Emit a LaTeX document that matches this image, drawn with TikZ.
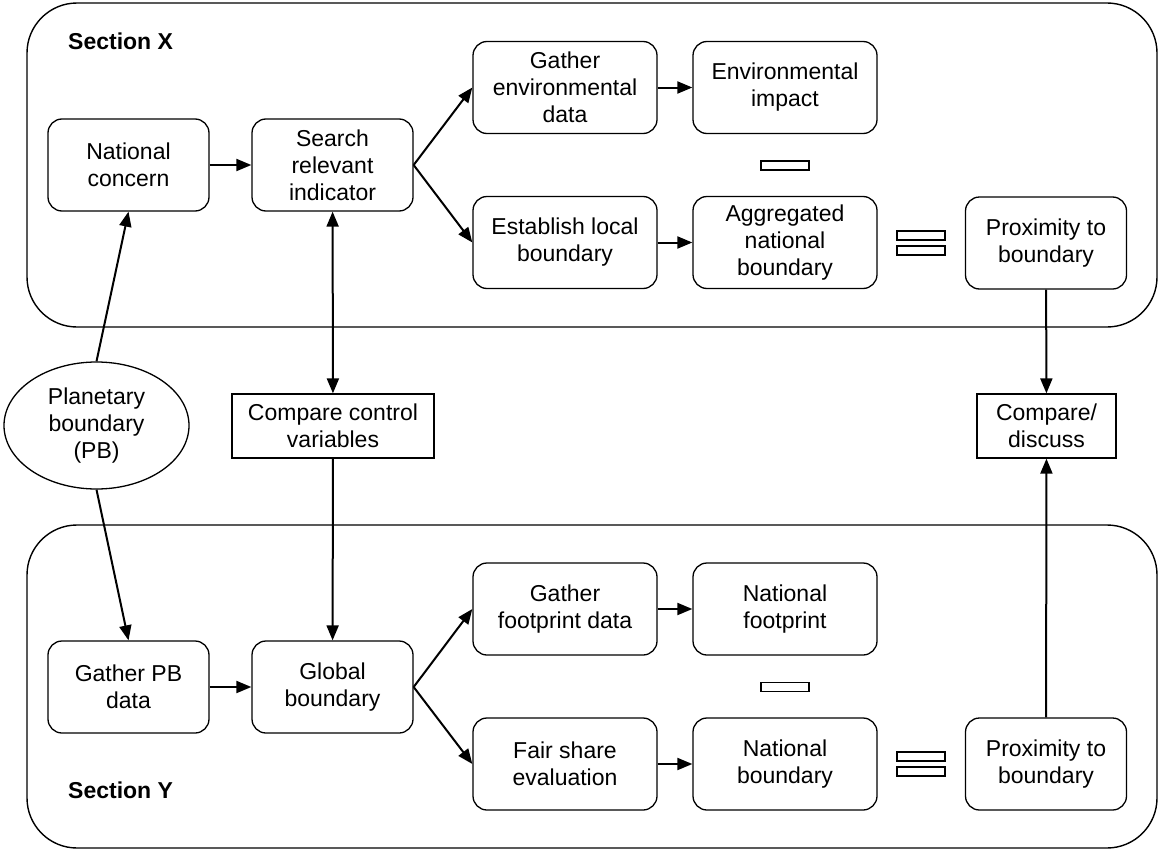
\documentclass[tikz,border=0pt]{standalone}
\usepackage{fontspec}
\setmainfont{Liberation Sans}
\usetikzlibrary{arrows.meta,shapes.geometric}

\begin{document}
\begin{tikzpicture}[x=1pt,y=-1pt,
  box/.style={draw,line width=1.3pt,rounded corners=14pt,minimum width=161pt,
    minimum height=92pt,align=center,inner sep=0pt,font=\fontsize{23}{27}\selectfont},
  widebox/.style={box,minimum width=184pt},
  plainbox/.style={draw,line width=1.3pt,minimum height=64pt,align=center,
    inner sep=0pt,font=\fontsize{23}{27}\selectfont},
  sign/.style={draw,line width=1.3pt,minimum width=48pt,minimum height=9pt,inner sep=0pt},
  arr/.style={line width=2pt,-{Triangle[length=15pt,width=12pt]}},
  dblarr/.style={line width=2pt,{Triangle[length=15pt,width=12pt]}-{Triangle[length=15pt,width=12pt]}}]
	\useasboundingbox (0,0) rectangle (1159,851);

	% sections
	\draw[line width=1.4pt,rounded corners=50pt] (27,3) rectangle (1157,327);
	\draw[line width=1.4pt,rounded corners=50pt] (27,525) rectangle (1157,848);
	\node[anchor=west,inner sep=0pt,font=\fontsize{23}{27}\selectfont\bfseries] (secX) at (68,41) {Section X};
	\node[anchor=west,inner sep=0pt,font=\fontsize{23}{27}\selectfont\bfseries] (secY) at (68,790) {Section Y};

	% section X
	\node[box] (national) at (128.5,165) {National\\concern};
	\node[box] (search) at (332.5,165) {Search\\relevant\\indicator};
	\node[widebox] (gatherenv) at (565,87.5) {Gather\\environmental\\data};
	\node[widebox] (establish) at (565,242.5) {Establish local\\boundary};
	\node[widebox] (envimpact) at (785,87.5) {Environmental\\impact};
	\node[widebox] (aggregated) at (785,242.5) {Aggregated\\national\\boundary};
	\node[box] (proxX) at (1046,243) {Proximity to\\boundary};
	\node[sign] (minusX) at (785,165.5) {};
	\node[sign] (eqXa) at (921,235.5) {};
	\node[sign] (eqXb) at (921,250.5) {};

	% between
	\node[draw,ellipse,line width=1.3pt,minimum width=185pt,minimum height=127pt,inner sep=0pt,
	  align=center,font=\fontsize{23}{27}\selectfont] (pb) at (96.5,425.5) {Planetary\\boundary\\(PB)};
	\node[plainbox,minimum width=202pt] (ccv) at (333,426) {Compare control\\variables};
	\node[plainbox,minimum width=139pt] (compare) at (1046.5,426) {Compare/\\discuss};

	% section Y
	\node[box] (gatherpb) at (128.5,687) {Gather PB\\data};
	\node[box] (global) at (332.5,687) {Global\\boundary};
	\node[widebox] (gatherfp) at (565,609) {Gather\\footprint data};
	\node[widebox] (fairshare) at (565,764) {Fair share\\evaluation};
	\node[widebox] (natfp) at (785,609) {National\\footprint};
	\node[widebox] (natbound) at (785,764) {National\\boundary};
	\node[box] (proxY) at (1046,764) {Proximity to\\boundary};
	\node[sign] (minusY) at (785,687) {};
	\node[sign] (eqYa) at (921,756.5) {};
	\node[sign] (eqYb) at (921,771.5) {};

	% connectors
	\draw[arr] (national) -- (search);
	\draw[arr] (search.east) -- (gatherenv.west);
	\draw[arr] (search.east) -- (establish.west);
	\draw[arr] (gatherenv) -- (envimpact);
	\draw[arr] (establish) -- (aggregated);
	\draw[arr] (pb.north) -- (national.south);
	\draw[arr] (pb.south) -- (gatherpb.north);
	\draw[dblarr] (search) -- (ccv);
	\draw[arr] (ccv) -- (global);
	\draw[arr] (proxX) -- (compare);
	\draw[arr] (proxY) -- (compare);
	\draw[arr] (gatherpb) -- (global);
	\draw[arr] (global.east) -- (gatherfp.west);
	\draw[arr] (global.east) -- (fairshare.west);
	\draw[arr] (gatherfp) -- (natfp);
	\draw[arr] (fairshare) -- (natbound);
\end{tikzpicture}
\end{document}
